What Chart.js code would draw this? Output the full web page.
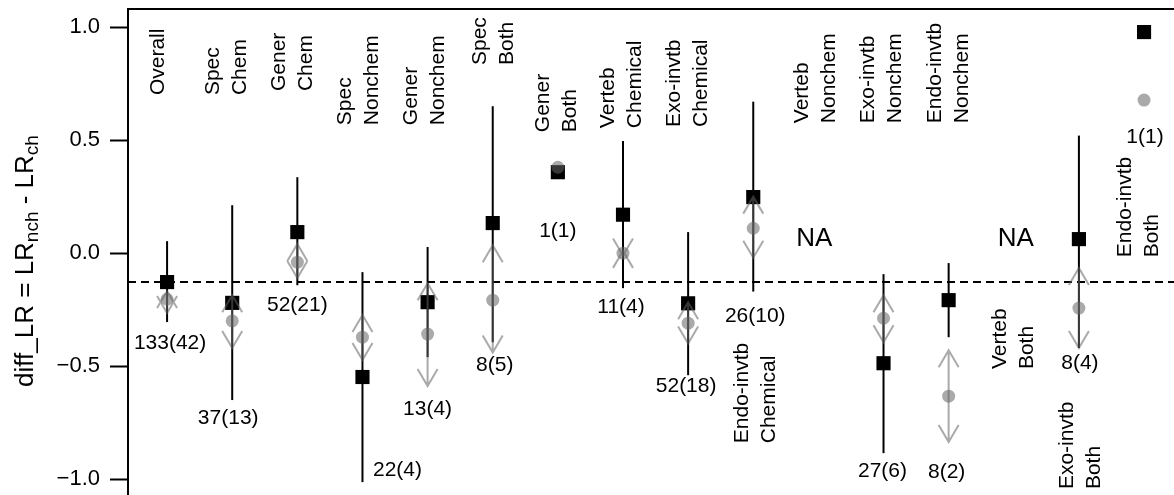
<!DOCTYPE html>
<html lang="en">
<head>
    <meta charset="UTF-8">
    <title>diff_LR by group</title>
    <style>
        html, body {
            margin: 0;
            padding: 0;
            background-color: #fff;
        }
        .chart-box {
            width: 1174px;
            height: 495px;
            position: relative;
        }
    </style>
</head>
<body>
    <div class="chart-box">
        <canvas id="lr-chart"></canvas>
    </div>

    <script src="https://cdn.jsdelivr.net/npm/chart.js"></script>

    <script>
        // groups, left to right (two-line labels as arrays)
        const groups = [
            ['Overall'], ['Spec', 'Chem'], ['Gener', 'Chem'], ['Spec', 'Nonchem'],
            ['Gener', 'Nonchem'], ['Spec', 'Both'], ['Gener', 'Both'], ['Verteb', 'Chemical'],
            ['Exo-invtb', 'Chemical'], ['Endo-invtb', 'Chemical'], ['Verteb', 'Nonchem'], ['Exo-invtb', 'Nonchem'],
            ['Endo-invtb', 'Nonchem'], ['Verteb', 'Both'], ['Exo-invtb', 'Both'], ['Endo-invtb', 'Both']
        ];
        const sampleCounts = ['133(42)', '37(13)', '52(21)', '22(4)', '13(4)', '8(5)', '1(1)', '11(4)',
            '52(18)', '26(10)', 'NA', '27(6)', '8(2)', 'NA', '8(4)', '1(1)'];

        // black squares with their interval
        const blackMean = [-0.128, -0.22, 0.093, -0.548, -0.217, 0.133, 0.358, 0.17,
            -0.222, 0.248, null, -0.487, -0.208, null, 0.062, 0.978];
        const blackLow = [-0.305, -0.65, -0.142, -1.013, -0.46, -0.394, null, -0.155,
            -0.54, -0.17, null, -0.885, -0.372, null, -0.42, null];
        const blackHigh = [0.053, 0.212, 0.336, -0.084, 0.027, 0.65, null, 0.496,
            0.093, 0.67, null, -0.093, -0.044, null, 0.52, null];

        // gray circles with their arrows
        const grayMean = [-0.204, -0.30, -0.04, -0.372, -0.358, -0.208, 0.38, 0.0,
            -0.31, 0.11, null, -0.288, -0.633, null, -0.243, 0.677];
        const grayLow = [-0.265, -0.42, -0.11, -0.473, -0.588, -0.44, null, -0.01,
            -0.40, -0.02, null, -0.394, -0.836, null, -0.42, null];
        const grayHigh = [-0.168, -0.186, 0.04, -0.274, -0.133, 0.035, null, 0.01,
            -0.217, 0.25, null, -0.186, -0.43, null, -0.066, null];

        const refLine = -0.128;
        const yTicks = [-1.0, -0.5, 0.0, 0.5, 1.0];
        const yTickLabels = ['\u22121.0', '\u22120.5', '0.0', '0.5', '1.0'];

        // where the texts sit: [x shift in px, y in data units]
        const groupLabelPos = [
            [-9, 0.699], [-5.5, 0.699], [-4.5, 0.717], [-3.5, 0.566], [-3, 0.566], [1, 0.832],
            [-1.5, 0.535], [-1, 0.553], [0, 0.558], [2, -0.841], [-2.5, 0.575], [-2, 0.575],
            [0.5, 0.575], [0, -0.513], [1.5, -1.044], [-5, -0.018]
        ];
        const countLabelPos = [
            [3, -0.398], [-4, -0.730], [0, -0.230], [35, -0.960], [0, -0.690], [2, -0.496],
            [0, 0.097], [-2, -0.239], [-2, -0.588], [2, -0.279], [-4, 0.062], [-1, -0.965],
            [-2, -0.969], [2, 0.062], [1, -0.487], [1, 0.513]
        ];

        const FONT = '"Liberation Sans", Arial, Helvetica, sans-serif';
        const GRAY = 'rgba(100,100,100,0.55)';

        const toPoints = arr => arr.map((v, i) => v === null ? null : { x: i + 1, y: v }).filter(p => p);

        const lrPlugin = {
            id: 'lrPlugin',
            beforeDatasetsDraw(chart) {
                const { ctx, chartArea, scales: { y } } = chart;
                ctx.save();
                ctx.strokeStyle = '#000';
                ctx.lineWidth = 2;
                ctx.setLineDash([8, 5]);
                const yy = y.getPixelForValue(refLine);
                ctx.beginPath();
                ctx.moveTo(chartArea.left, yy);
                ctx.lineTo(chartArea.right, yy);
                ctx.stroke();
                ctx.restore();
            },
            beforeDatasetDraw(chart, args) {
                const { ctx, scales: { x, y } } = chart;
                ctx.save();
                if (args.index === 1) {
                    // black intervals
                    ctx.strokeStyle = '#000';
                    ctx.lineWidth = 2;
                    blackMean.forEach((m, i) => {
                        if (blackLow[i] === null) return;
                        const px = x.getPixelForValue(i + 1);
                        ctx.beginPath();
                        ctx.moveTo(px, y.getPixelForValue(blackHigh[i]));
                        ctx.lineTo(px, y.getPixelForValue(blackLow[i]));
                        ctx.stroke();
                    });
                } else if (args.index === 0) {
                    // gray double arrows
                    ctx.strokeStyle = GRAY;
                    ctx.lineWidth = 2;
                    grayMean.forEach((m, i) => {
                        if (grayLow[i] === null) return;
                        const px = x.getPixelForValue(i + 1);
                        const top = y.getPixelForValue(grayHigh[i]);
                        const bot = y.getPixelForValue(grayLow[i]);
                        ctx.beginPath();
                        ctx.moveTo(px, top);
                        ctx.lineTo(px, bot);
                        ctx.moveTo(px - 10, top + 17);
                        ctx.lineTo(px, top);
                        ctx.lineTo(px + 10, top + 17);
                        ctx.moveTo(px - 10, bot - 17);
                        ctx.lineTo(px, bot);
                        ctx.lineTo(px + 10, bot - 17);
                        ctx.stroke();
                    });
                }
                ctx.restore();
            },
            afterDraw(chart) {
                const { ctx, chartArea, scales: { x, y } } = chart;
                ctx.save();
                // top frame line
                ctx.strokeStyle = '#000';
                ctx.lineWidth = 2;
                ctx.beginPath();
                ctx.moveTo(chartArea.left - 1, chartArea.top);
                ctx.lineTo(chartArea.right, chartArea.top);
                ctx.stroke();

                ctx.fillStyle = '#000';
                // group names, rotated
                ctx.font = '21px ' + FONT;
                ctx.textAlign = 'left';
                ctx.textBaseline = 'middle';
                groups.forEach((lines, i) => {
                    const cx = x.getPixelForValue(i + 1) + groupLabelPos[i][0];
                    const y0 = y.getPixelForValue(groupLabelPos[i][1]);
                    lines.forEach((t, k) => {
                        const lx = cx + (k - (lines.length - 1) / 2) * 27;
                        ctx.save();
                        ctx.translate(lx, y0);
                        ctx.rotate(-Math.PI / 2);
                        ctx.fillText(t, 0, 0);
                        ctx.restore();
                    });
                });

                // counts and NA
                ctx.textAlign = 'center';
                sampleCounts.forEach((t, i) => {
                    ctx.font = (t === 'NA' ? '26px ' : '21px ') + FONT;
                    const cx = x.getPixelForValue(i + 1) + countLabelPos[i][0];
                    ctx.fillText(t, cx, y.getPixelForValue(countLabelPos[i][1]));
                });

                // y title with subscripts
                const parts = [['diff_LR = LR', false], ['nch', true], [' - LR', false], ['ch', true]];
                const big = '26px ' + FONT, small = '19px ' + FONT;
                let total = 0;
                parts.forEach(([t, sub]) => {
                    ctx.font = sub ? small : big;
                    total += ctx.measureText(t).width;
                });
                ctx.save();
                ctx.translate(33, 261);
                ctx.rotate(-Math.PI / 2);
                ctx.textAlign = 'left';
                ctx.textBaseline = 'alphabetic';
                let pos = -total / 2;
                parts.forEach(([t, sub]) => {
                    ctx.font = sub ? small : big;
                    ctx.fillText(t, pos, sub ? 5 : 0);
                    pos += ctx.measureText(t).width;
                });
                ctx.restore();
                ctx.restore();
            }
        };

        const ctx = document.getElementById('lr-chart').getContext('2d');
        const chart = new Chart(ctx, {
            type: 'scatter',
            data: {
                datasets: [
                    {
                        label: 'gray',
                        data: toPoints(grayMean),
                        pointStyle: 'circle',
                        pointRadius: 6.5,
                        backgroundColor: GRAY,
                        borderWidth: 0
                    },
                    {
                        label: 'black',
                        data: toPoints(blackMean),
                        pointStyle: 'rect',
                        pointRadius: 10,
                        backgroundColor: '#000',
                        borderWidth: 0
                    }
                ]
            },
            options: {
                responsive: true,
                maintainAspectRatio: false,
                animation: false,
                events: [],
                layout: {
                    autoPadding: false,
                    padding: { top: 9, left: 0, right: 0, bottom: 0 }
                },
                plugins: {
                    legend: { display: false },
                    tooltip: { enabled: false }
                },
                scales: {
                    x: {
                        type: 'linear',
                        display: false,
                        min: 0.4,
                        max: 16.46
                    },
                    y: {
                        type: 'linear',
                        min: -1.07,
                        max: 1.08,
                        afterBuildTicks: s => { s.ticks = yTicks.map(v => ({ value: v })); },
                        afterFit: s => { s.width = 128; s.paddingTop = 0; s.paddingBottom = 0; },
                        ticks: {
                            callback: (v, i) => yTickLabels[i],
                            color: '#000',
                            font: { family: FONT, size: 22 },
                            padding: 10
                        },
                        grid: {
                            display: true,
                            drawOnChartArea: false,
                            drawTicks: true,
                            tickLength: 18,
                            tickWidth: 2,
                            tickColor: '#000'
                        },
                        border: { display: true, color: '#000', width: 2 }
                    }
                }
            },
            plugins: [lrPlugin]
        });
    </script>
</body>
</html>
